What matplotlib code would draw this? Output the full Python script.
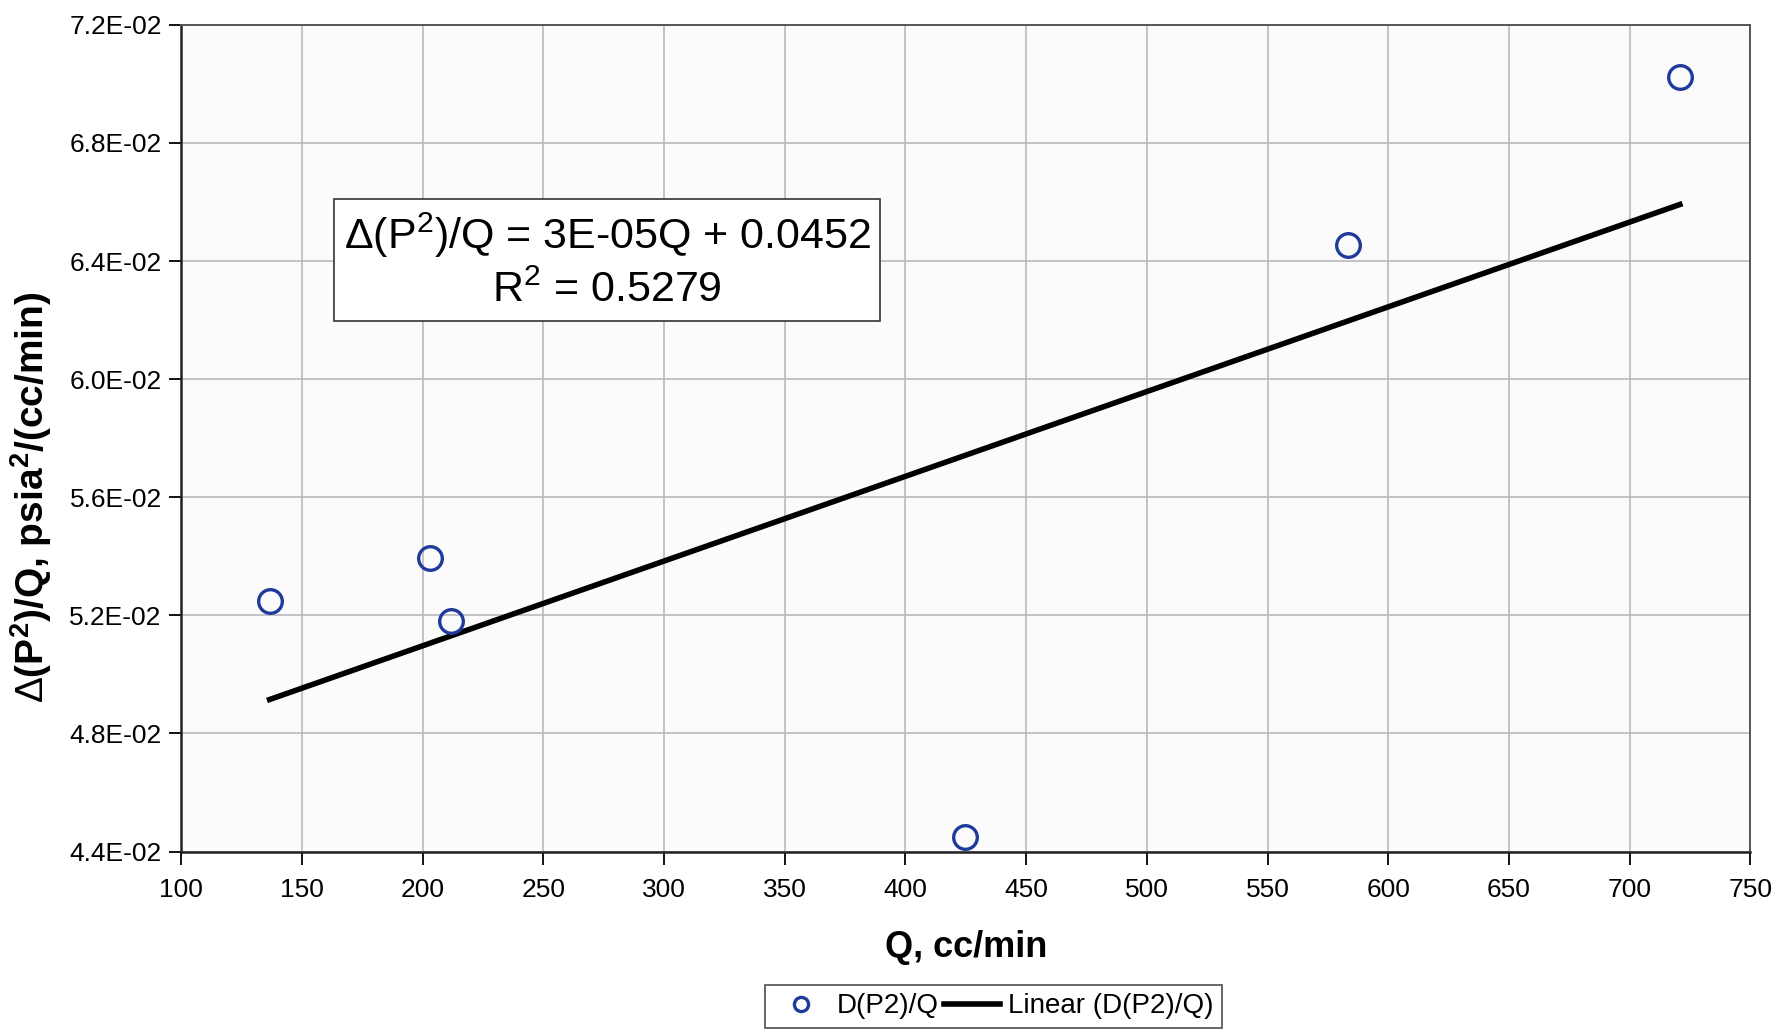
import matplotlib
matplotlib.use("Agg")
from matplotlib import pyplot as plt
from matplotlib.ticker import FuncFormatter
import numpy as np

plt.rcParams['font.family'] = ['Liberation Sans', 'DejaVu Sans']
plt.rcParams['mathtext.fontset'] = 'custom'
plt.rcParams['mathtext.rm'] = 'Liberation Sans'
plt.rcParams['mathtext.bf'] = 'Liberation Sans:bold'

# data
q = [136.6, 203.2, 211.7, 424.7, 583.3, 720.8]
dp2_q = [0.05248, 0.05393, 0.05182, 0.04450, 0.06456, 0.07024]

# trend line shown on the chart
slope = 2.87e-5
intercept = 0.04523
r2 = 0.5279

x_ticks = list(range(100, 751, 50))
y_ticks = [0.044, 0.048, 0.052, 0.056, 0.060, 0.064, 0.068, 0.072]

fig = plt.figure(figsize=(17.77, 10.36), dpi=100)
ax = fig.add_axes([0.102, 0.178, 0.883, 0.798])
ax.set_facecolor('#fbfbfb')

ax.plot(q, dp2_q, linestyle='none', marker='o', markersize=17,
        markerfacecolor='none', markeredgecolor='#1e3a9a', markeredgewidth=2.4,
        label='D(P2)/Q', zorder=4)

xl = np.array([min(q), max(q)])
ax.plot(xl, slope * xl + intercept, color='black', linewidth=4,
        label='Linear (D(P2)/Q)', zorder=3)

ax.set_xlim(100, 750)
ax.set_ylim(0.044, 0.072)
ax.set_xticks(x_ticks)
ax.set_yticks(y_ticks)
ax.yaxis.set_major_formatter(FuncFormatter(lambda v, p: '{:.1E}'.format(v)))
ax.grid(True, color='#b8b8c0', linewidth=1.2)
ax.set_axisbelow(True)
ax.tick_params(axis='both', labelsize=19, length=9, width=1.3, direction='out', pad=5)
ax.tick_params(axis='x', pad=10)

for s in ['left', 'bottom']:
    ax.spines[s].set_linewidth(1.8)
    ax.spines[s].set_color('#222222')
for s in ['top', 'right']:
    ax.spines[s].set_linewidth(1.4)
    ax.spines[s].set_color('#555555')

ax.set_xlabel('Q, cc/min', fontsize=26, fontweight='bold', labelpad=20)
ax.set_ylabel(r'$\Delta$(P$^\mathbf{2}$)/Q, psia$^\mathbf{2}$/(cc/min)',
              fontsize=28, fontweight='bold')
ax.yaxis.set_label_coords(-0.081, 0.4286)

fig.text(0.3418, 0.748,
         r'$\Delta$(P$^2$)/Q = 3E-05Q + 0.0452' + '\n' + r'R$^2$ = ' + str(r2),
         fontsize=31, ha='center', va='center', multialignment='center',
         linespacing=1.35,
         bbox=dict(boxstyle='square,pad=0.22', facecolor='white',
                   edgecolor='#333333', linewidth=1.2))

leg = fig.legend(loc='lower center', bbox_to_anchor=(0.559, 0.0), ncol=2,
                 fontsize=20, frameon=True, fancybox=False, edgecolor='#333333',
                 handlelength=2.0, handletextpad=0.3, columnspacing=0.2,
                 markerscale=0.6, borderpad=0.3, borderaxespad=0.3)
leg.get_frame().set_linewidth(1.3)

fig.savefig('out.png', dpi=100, facecolor='white')
